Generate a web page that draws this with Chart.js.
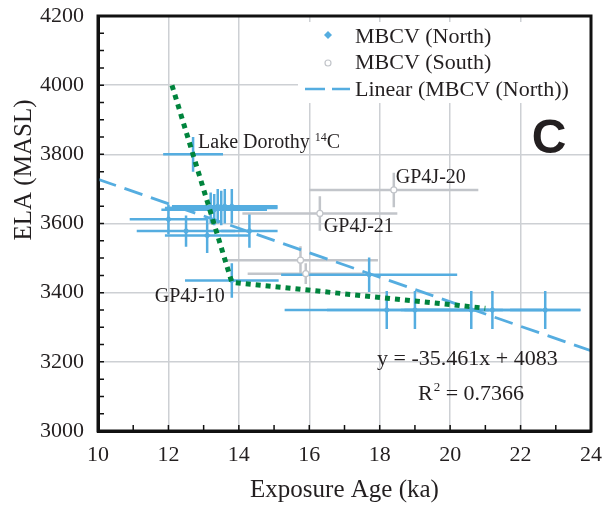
<!DOCTYPE html>
<html>
<head>
<meta charset="utf-8">
<script src="https://cdn.jsdelivr.net/npm/chart.js@4"></script>
<style>
  body { margin: 0; background: #fff; }
</style>
</head>
<body>
<canvas id="elaChart" width="603" height="507"></canvas>
<script>
// MBCV (North) exposure ages (ka) and ELA (m asl), with error bars
const northX    = [12.7, 12.0, 12.5, 13.1, 14.3, 13.2, 13.3, 13.4, 13.5, 13.6, 13.8, 13.8, 17.7, 18.2, 19.0, 20.6, 21.2, 22.7];
const northY    = [3800, 3612, 3578, 3565, 3578, 3645, 3640, 3650, 3645, 3650, 3650, 3435, 3452, 3350, 3350, 3350, 3350, 3350];
const northXErr = [0.85, 1.1, 1.4, 1.2, 0.8, 1.2, 1.5, 1.3, 1.6, 1.4, 1.3, 1.33, 2.5, 2.9, 2.5, 2.0, 2.5, 1.0];
const northYErr = [50, 42, 45, 50, 48, 45, 45, 50, 50, 50, 50, 50, 50, 55, 55, 55, 55, 55];

// MBCV (South)
const southX    = [18.4, 16.3, 15.75, 15.9];
const southY    = [3697, 3629, 3494, 3455];
const southXErr = [2.4, 2.2, 2.2, 1.65];
const southYErr = [50, 50, 40, 30];

// Linear (MBCV (North)) trend: y = -35.461x + 4083
const trendX = [10, 24];
const trendY = [3728, 3232];

// green dotted line
const greenX = [12.1, 13.8, 21.0];
const greenY = [4000, 3430, 3355];

const xTicks = [10, 12, 14, 16, 18, 20, 22, 24];
const yTicks = [3000, 3200, 3400, 3600, 3800, 4000, 4200];

const BLUE = "#55ADE0";
const GRAY = "#C2C5CA";
const GREEN = "#00843D";
const GRID = "#CDD0D4";
const TXT = "#231F20";
const SERIF = "'Liberation Serif', 'Times New Roman', serif";

function pts(xs, ys) {
  return xs.map((x, i) => ({ x: x, y: ys[i] }));
}

const overlay = {
  id: "overlay",
  beforeDatasetsDraw(chart) {
    const ctx = chart.ctx;
    const a = chart.chartArea;
    const sx = chart.scales.x;
    const sy = chart.scales.y;
    ctx.save();
    ctx.beginPath();
    ctx.rect(a.left, a.top, a.right - a.left, a.bottom - a.top);
    ctx.clip();
    ctx.lineWidth = 2.5;
    ctx.lineCap = "butt";
    function bars(xs, ys, xe, ye, color) {
      ctx.strokeStyle = color;
      xs.forEach((x, i) => {
        const px = sx.getPixelForValue(x);
        const py = sy.getPixelForValue(ys[i]);
        ctx.beginPath();
        ctx.moveTo(sx.getPixelForValue(x - xe[i]), py);
        ctx.lineTo(sx.getPixelForValue(x + xe[i]), py);
        ctx.moveTo(px, sy.getPixelForValue(ys[i] - ye[i]));
        ctx.lineTo(px, sy.getPixelForValue(ys[i] + ye[i]));
        ctx.stroke();
      });
    }
    bars(southX, southY, southXErr, southYErr, GRAY);
    bars(northX, northY, northXErr, northYErr, BLUE);

    // legend box (white, hides gridlines)
    ctx.fillStyle = "#fff";
    ctx.fillRect(a.right - 293, a.top + 6, 293, 81);
    ctx.restore();
  },
  afterDraw(chart) {
    const ctx = chart.ctx;
    const a = chart.chartArea;
    const sx = chart.scales.x;
    const sy = chart.scales.y;
    ctx.save();

    // inward minor ticks
    ctx.strokeStyle = "#111";
    ctx.lineWidth = 1.5;
    ctx.beginPath();
    sx.ticks.forEach(t => {
      const px = sx.getPixelForValue(t.value);
      ctx.moveTo(px, a.bottom);
      ctx.lineTo(px, a.bottom - 6);
    });
    sy.ticks.forEach(t => {
      const py = sy.getPixelForValue(t.value);
      ctx.moveTo(a.left, py);
      ctx.lineTo(a.left + 6, py);
    });
    ctx.stroke();

    // frame
    ctx.lineWidth = 3;
    ctx.strokeStyle = "#111";
    ctx.strokeRect(a.left, a.top, a.right - a.left, a.bottom - a.top);

    // legend
    const lx = a.right - 293;
    ctx.fillStyle = TXT;
    ctx.font = "22px " + SERIF;
    ctx.textAlign = "left";
    ctx.textBaseline = "middle";
    ctx.fillText("MBCV (North)", lx + 57, a.top + 21);
    ctx.fillText("MBCV (South)", lx + 57, a.top + 47);
    ctx.fillText("Linear (MBCV (North))", lx + 57, a.top + 74);
    ctx.fillStyle = BLUE;
    ctx.beginPath();
    ctx.moveTo(lx + 30, a.top + 15);
    ctx.lineTo(lx + 34, a.top + 19);
    ctx.lineTo(lx + 30, a.top + 23);
    ctx.lineTo(lx + 26, a.top + 19);
    ctx.closePath();
    ctx.fill();
    ctx.strokeStyle = GRAY;
    ctx.lineWidth = 1.2;
    ctx.beginPath();
    ctx.arc(lx + 30, a.top + 47, 3, 0, Math.PI * 2);
    ctx.stroke();
    ctx.strokeStyle = BLUE;
    ctx.lineWidth = 2.5;
    ctx.beginPath();
    ctx.moveTo(lx + 7, a.top + 73);
    ctx.lineTo(lx + 27, a.top + 73);
    ctx.moveTo(lx + 34, a.top + 73);
    ctx.lineTo(lx + 52, a.top + 73);
    ctx.stroke();

    // point labels
    ctx.fillStyle = TXT;
    ctx.textBaseline = "alphabetic";
    ctx.font = "20px " + SERIF;
    let px = sx.getPixelForValue(northX[0]) + 5;
    let py = sy.getPixelForValue(northY[0]) - 6;
    ctx.fillText("Lake Dorothy ", px, py);
    px += ctx.measureText("Lake Dorothy ").width;
    ctx.font = "12px " + SERIF;
    ctx.fillText("14", px, py - 7);
    px += ctx.measureText("14").width;
    ctx.font = "20px " + SERIF;
    ctx.fillText("C", px, py);

    ctx.fillText("GP4J-20", sx.getPixelForValue(southX[0]) + 2, sy.getPixelForValue(southY[0]) - 7);
    ctx.fillText("GP4J-21", sx.getPixelForValue(southX[1]) + 4, sy.getPixelForValue(southY[1]) + 19);
    ctx.textAlign = "right";
    ctx.fillText("GP4J-10", sx.getPixelForValue(northX[11]) - 7, sy.getPixelForValue(northY[11]) + 21);

    // equation
    ctx.textAlign = "left";
    ctx.font = "22px " + SERIF;
    ctx.fillText("y = -35.461x + 4083", a.left + 279, a.top + 349);
    px = a.left + 320;
    py = a.top + 384;
    ctx.fillText("R", px, py);
    px += ctx.measureText("R").width + 1;
    ctx.font = "13px " + SERIF;
    ctx.fillText("2", px, py - 9);
    px += ctx.measureText("2").width;
    ctx.font = "22px " + SERIF;
    ctx.fillText(" = 0.7366", px, py);

    // panel letter
    ctx.font = "bold 48px 'Liberation Sans', Arial, sans-serif";
    ctx.textAlign = "center";
    ctx.fillText("C", a.right - 42, a.top + 137);

    // axis titles
    ctx.font = "25px " + SERIF;
    ctx.textAlign = "center";
    ctx.fillText("Exposure Age (ka)", (a.left + a.right) / 2, 497);
    ctx.translate(31, 170);
    ctx.rotate(-Math.PI / 2);
    ctx.fillText("ELA (MASL)", 0, 0);
    ctx.restore();
  }
};

new Chart(document.getElementById("elaChart"), {
  type: "scatter",
  data: {
    datasets: [
      {
        label: "Linear (MBCV (North))",
        type: "line",
        data: pts(trendX, trendY),
        borderColor: BLUE,
        borderWidth: 2.8,
        borderDash: [19, 9],
        pointRadius: 0,
        fill: false,
        order: 3,
      },
      {
        label: "ELA trend",
        type: "line",
        data: pts(greenX, greenY),
        borderColor: GREEN,
        borderWidth: 5,
        borderDash: [5, 5],
        borderCapStyle: "butt",
        pointRadius: 0,
        fill: false,
        order: 0,
      },
      {
        label: "MBCV (North)",
        data: pts(northX, northY),
        pointStyle: "rectRot",
        pointRadius: 3.5,
        backgroundColor: BLUE,
        borderColor: BLUE,
        borderWidth: 0,
        order: 1,
      },
      {
        label: "MBCV (South)",
        data: pts(southX, southY),
        pointStyle: "circle",
        pointRadius: 3,
        backgroundColor: "#fff",
        borderColor: GRAY,
        borderWidth: 1.2,
        order: 2,
      },
    ],
  },
  options: {
    responsive: false,
    animation: false,
    events: [],
    layout: { padding: { top: 16, right: 12, left: 0, bottom: 0 } },
    plugins: { legend: { display: false }, tooltip: { enabled: false } },
    scales: {
      x: {
        type: "linear",
        min: xTicks[0],
        max: xTicks[xTicks.length - 1],
        afterFit: s => { s.height = 76; s.paddingLeft = 0; s.paddingRight = 0; },
        ticks: {
          stepSize: 1,
          autoSkip: false,
          maxRotation: 0,
          padding: 11,
          color: TXT,
          font: { family: SERIF, size: 22 },
          callback: v => (xTicks.includes(v) ? v : ""),
        },
        grid: {
          drawTicks: false,
          lineWidth: 1.5,
          color: c => (c.tick && xTicks.includes(c.tick.value) ? GRID : "rgba(0,0,0,0)"),
        },
        border: { color: "#111", width: 3 },
      },
      y: {
        type: "linear",
        min: yTicks[0],
        max: yTicks[yTicks.length - 1],
        afterFit: s => { s.width = 98; s.paddingTop = 0; s.paddingBottom = 0; },
        ticks: {
          stepSize: 50,
          autoSkip: false,
          padding: 14,
          color: TXT,
          font: { family: SERIF, size: 22 },
          callback: v => (yTicks.includes(v) ? v : ""),
        },
        grid: {
          drawTicks: false,
          lineWidth: 1.5,
          color: c => (c.tick && yTicks.includes(c.tick.value) ? GRID : "rgba(0,0,0,0)"),
        },
        border: { color: "#111", width: 3 },
      },
    },
  },
  plugins: [overlay],
});
</script>
</body>
</html>
